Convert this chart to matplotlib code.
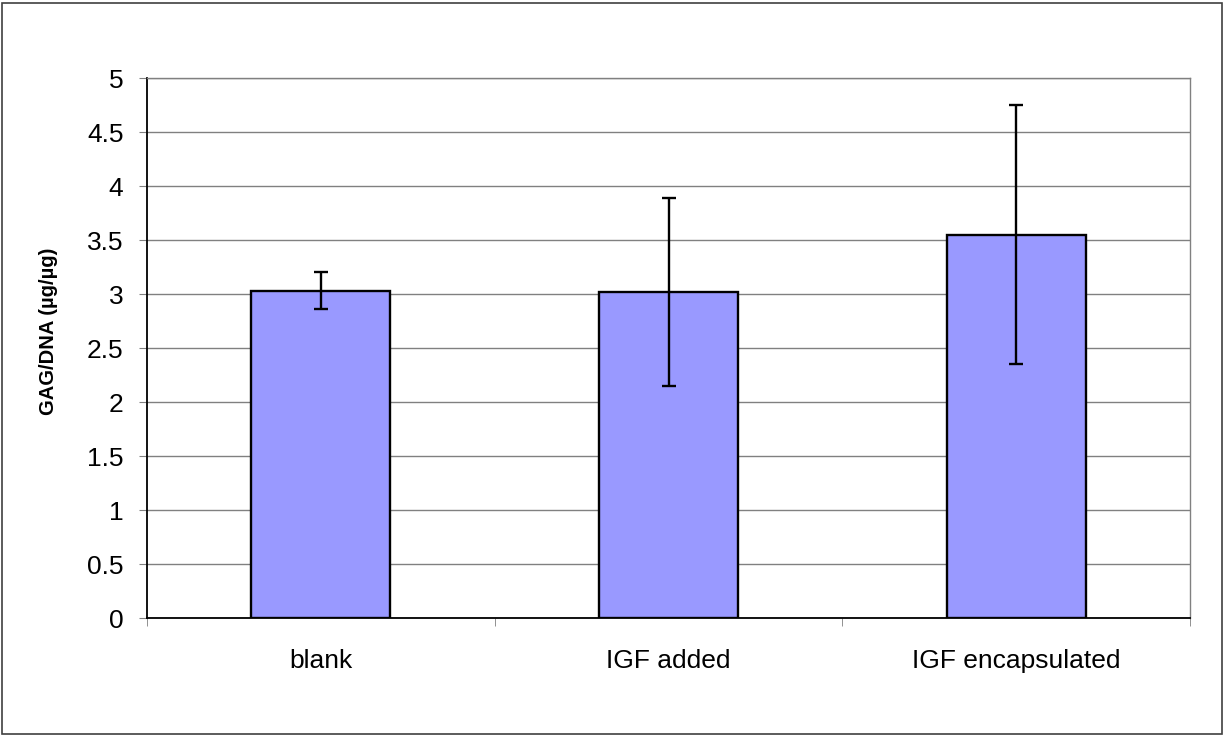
import matplotlib
matplotlib.use("Agg")
import matplotlib.pyplot as plt
import numpy as np
from matplotlib.patches import Rectangle

categories = ["blank", "IGF added", "IGF encapsulated"]
values = [3.03, 3.02, 3.55]
errors = [0.17, 0.87, 1.20]
yticks = [0, 0.5, 1, 1.5, 2, 2.5, 3, 3.5, 4, 4.5, 5]
ylabel = "GAG/DNA (µg/µg)"

plt.rcParams['font.family'] = ['Liberation Sans', 'DejaVu Sans']

fig = plt.figure(figsize=(12.25, 7.36), dpi=100)
ax = fig.add_axes([147/1225, 1-618/736, (1190-147)/1225, (618-78)/736])

x = np.arange(len(categories))
ax.bar(x, values, width=0.4, color="#9999FF", edgecolor="black", linewidth=1.7, zorder=3)
ax.errorbar(x, values, yerr=errors, fmt="none", ecolor="black", elinewidth=1.7,
            capsize=5, capthick=1.7, zorder=4)

ax.set_xlim(-0.5, len(categories) - 0.5)
ax.set_ylim(0, 5)
ax.set_yticks(yticks)
ax.set_yticklabels([f"{v:g}" for v in yticks], fontsize=19)
ax.yaxis.grid(True, color="#808080", linewidth=1.0, zorder=0)
ax.set_axisbelow(True)

ax.set_xticks(x)
ax.set_xticklabels(categories, fontsize=19)
ax.tick_params(axis="x", length=0, pad=22)
ax.set_xticks(np.arange(-0.5, len(categories)), minor=True)
ax.tick_params(axis="x", which="minor", length=6, color="#808080", direction="out")
ax.tick_params(axis="y", length=6, color="#808080", direction="out", pad=11)

ax.spines["left"].set_color("black")
ax.spines["left"].set_linewidth(1.3)
ax.spines["bottom"].set_color("black")
ax.spines["bottom"].set_linewidth(1.3)
ax.spines["top"].set_color("#808080")
ax.spines["right"].set_color("#808080")
ax.spines["top"].set_linewidth(1.0)
ax.spines["right"].set_linewidth(1.0)

fig.text(49/1225, 1-331/736, ylabel, rotation=90, fontsize=14.5, fontweight="bold",
         ha="center", va="center")

# outer frame
fig.patches.append(Rectangle((2/1225, 2/736), 1220/1225, 731/736, transform=fig.transFigure,
                             fill=False, edgecolor="#404040", linewidth=1.2))

fig.savefig("out.png", dpi=100)
